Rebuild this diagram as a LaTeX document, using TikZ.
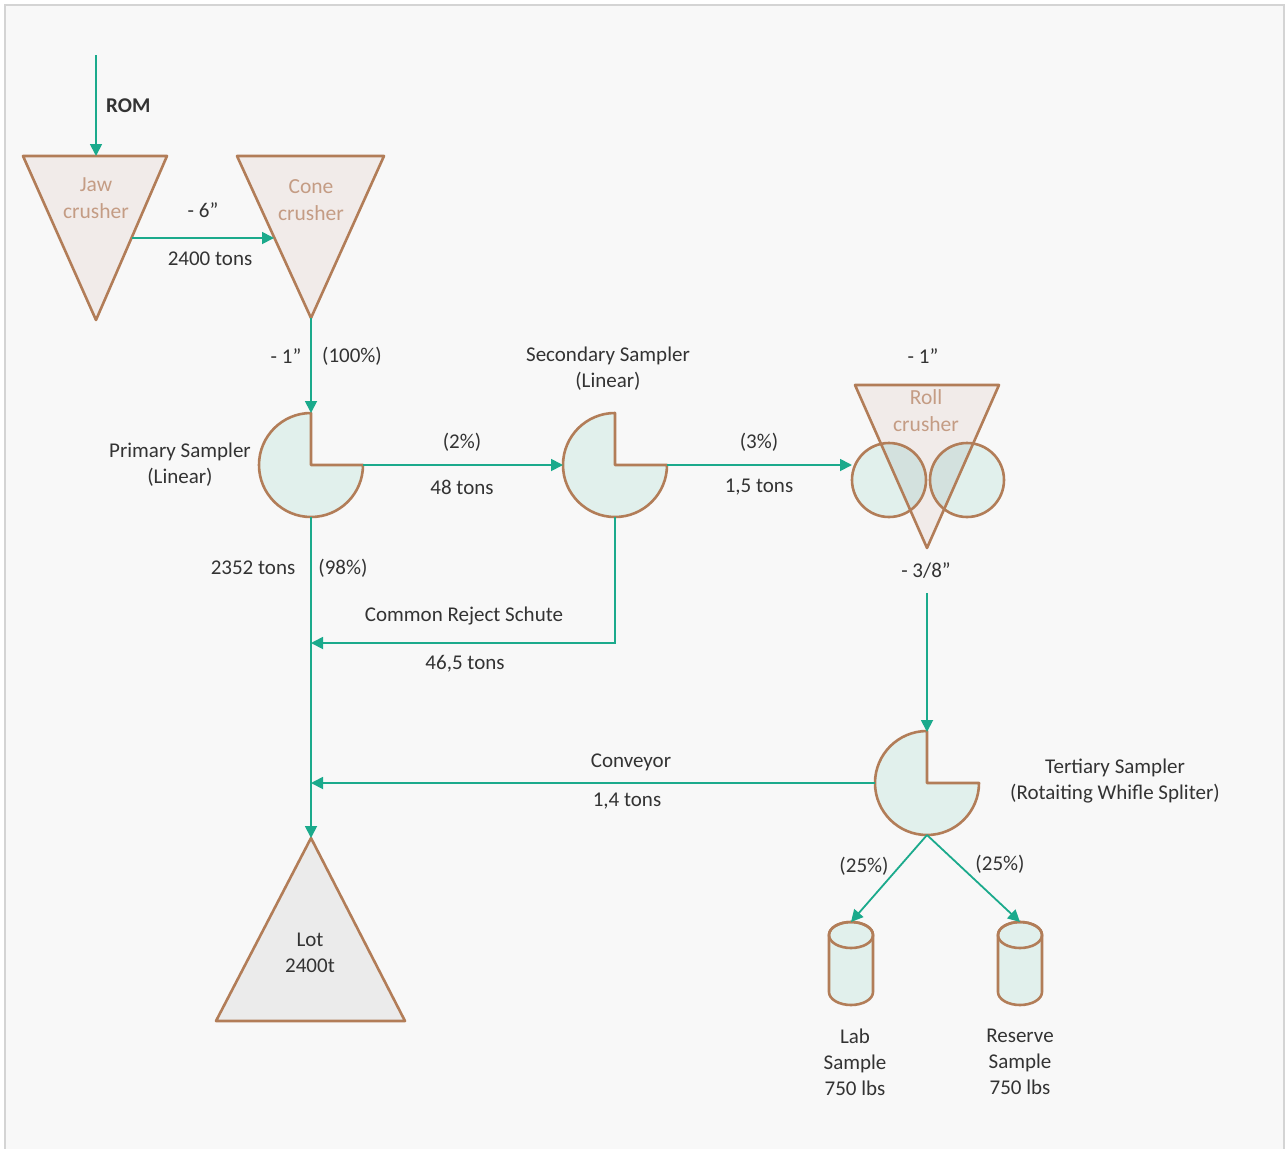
\documentclass[tikz,border=0pt]{standalone}
\usepackage{fontspec}
\setmainfont{Carlito}
\usetikzlibrary{arrows.meta,calc}
\definecolor{bgc}{HTML}{F8F8F8}
\definecolor{framec}{HTML}{D4D4D4}
\definecolor{flow}{HTML}{1BAA8C}
\definecolor{brn}{HTML}{B27D58}
\definecolor{crfill}{HTML}{F1EBE9}
\definecolor{smfill}{HTML}{E1F0EC}
\definecolor{lotfill}{HTML}{EBEBEB}
\definecolor{crtext}{HTML}{C49C84}
\definecolor{txt}{HTML}{333333}
\tikzset{
  flowline/.style={draw=flow, line width=1.8pt, -{Triangle[length=12pt,width=12pt]}},
  shapeline/.style={draw=brn, line width=2.6pt, line join=round},
  lbl/.style={text=txt, font=\fontsize{21}{26}\selectfont, align=center, inner sep=0pt},
  crlbl/.style={text=crtext, font=\fontsize{21.5}{27}\selectfont, align=center, inner sep=0pt},
}
\newcommand{\samplershape}[1]{%
  \path[shapeline, fill=smfill] (#1) -- ++(52,0) arc[start angle=0,end angle=-270,radius=52pt] -- cycle;}
\newcommand{\cylshape}[1]{%
  \path[shapeline, fill=smfill] ($(#1)+(-22,13)$) -- ++(0,57) arc[start angle=180,end angle=360,x radius=22pt,y radius=13pt] -- ++(0,-57) arc[start angle=0,end angle=180,x radius=22pt,y radius=13pt] -- cycle;
  \path[shapeline] ($(#1)+(0,13)$) ellipse[x radius=22pt,y radius=13pt];}
\begin{document}
\begin{tikzpicture}[x=1pt,y=-1pt]
\useasboundingbox (0,0) rectangle (1286,1149);
\fill[white] (0,0) rectangle (1286,1149);
\draw[framec, line width=1.5pt, fill=bgc] (5,5) rectangle (1284,1160);

% ---- coordinates
\coordinate (romstart) at (96,55);
\coordinate (jawtop) at (96,156);
\coordinate (jawR) at (132,238);
\coordinate (coneL) at (274,238);
\coordinate (conebot) at (311,318);
\coordinate (prim) at (311,465);
\coordinate (primtop) at (311,413);
\coordinate (primR) at (363,465);
\coordinate (primbot) at (311,517);
\coordinate (sec) at (615,465);
\coordinate (secL) at (563,465);
\coordinate (secR) at (667,465);
\coordinate (secbot) at (615,517);
\coordinate (secturn) at (615,643);
\coordinate (rejjoin) at (311,643);
\coordinate (rollL) at (852,465);
\coordinate (rollout) at (927,593);
\coordinate (ter) at (927,783);
\coordinate (tertop) at (927,732);
\coordinate (terL) at (875,783);
\coordinate (terbot) at (927,835);
\coordinate (convjoin) at (311,783);
\coordinate (lottop) at (311,838);
\coordinate (lab) at (851,922);
\coordinate (res) at (1020,922);

% ---- crushers
\path[shapeline, fill=crfill] (23,156) -- (167,156) -- (96,320) -- cycle;
\node[crlbl] (jawtxt) at (96,198) {Jaw\\crusher};
\path[shapeline, fill=crfill] (237,156) -- (384,156) -- (311,318) -- cycle;
\node[crlbl] (conetxt) at (311,200) {Cone\\crusher};

% roll crusher
\path[fill=crfill] (855,385) -- (999,385) -- (927,548) -- cycle;
\node[crlbl] (rolltxt) at (926,411) {Roll\\crusher};
\path[fill=smfill] (889,480) circle[radius=37pt];
\path[fill=smfill] (967,480) circle[radius=37pt];
\begin{scope}
  \clip (855,385) -- (999,385) -- (927,548) -- cycle;
  \path[fill=black, fill opacity=0.06] (889,480) circle[radius=37pt];
  \path[fill=black, fill opacity=0.06] (967,480) circle[radius=37pt];
\end{scope}
\path[shapeline] (889,480) circle[radius=37pt];
\path[shapeline] (967,480) circle[radius=37pt];
\path[shapeline] (855,385) -- (999,385) -- (927,548) -- cycle;

% samplers
\samplershape{prim}
\samplershape{sec}
\samplershape{ter}

% lot
\path[shapeline, fill=lotfill] (311,838) -- (405,1021) -- (216,1021) -- cycle;
\node[lbl] (lottxt) at (310,953) {Lot\\2400t};

% cylinders
\cylshape{lab}
\cylshape{res}

% ---- connectors
\draw[flowline] (romstart) -- (jawtop);
\draw[flowline] (jawR) -- (coneL);
\draw[flowline] (conebot) -- (primtop);
\draw[flowline] (primR) -- (secL);
\draw[flowline] (secR) -- (rollL);
\draw[flowline] (secbot) -- (secturn) -- (rejjoin);
\draw[flowline] (primbot) -- (lottop);
\draw[flowline] (rollout) -- (tertop);
\draw[flowline] (terL) -- (convjoin);
\draw[flowline] (terbot) -- (lab);
\draw[flowline] (terbot) -- (res);

% ---- labels
\node[lbl, font=\fontsize{21}{26}\selectfont\bfseries, anchor=west] (rom) at (106,106) {ROM};
\node[lbl] (l6) at (203,210) {- 6”};
\node[lbl] (l2400) at (210,259) {2400 tons};
\node[lbl] (l1a) at (286,356) {- 1”};
\node[lbl] (l100) at (352,356) {(100\%)};
\node[lbl] (primtxt) at (180,465) {Primary Sampler\\(Linear)};
\node[lbl] (sectxt) at (608,369) {Secondary Sampler\\(Linear)};
\node[lbl] (l2) at (462,442) {(2\%)};
\node[lbl] (l48) at (462,487) {48 tons};
\node[lbl] (l3) at (759,442) {(3\%)};
\node[lbl] (l15) at (759,487) {1,5 tons};
\node[lbl] (l1b) at (923,356) {- 1”};
\node[lbl] (l38) at (926,571) {- 3/8”};
\node[lbl] (l2352) at (253,568) {2352 tons};
\node[lbl] (l98) at (343,568) {(98\%)};
\node[lbl] (rej) at (464,616) {Common Reject Schute};
\node[lbl] (l465) at (465,664) {46,5 tons};
\node[lbl] (conv) at (631,762) {Conveyor};
\node[lbl] (l14) at (627,801) {1,4 tons};
\node[lbl] (tertxt) at (1115,781) {Tertiary Sampler\\(Rotaiting Whifle Spliter)};
\node[lbl] (l25a) at (864,866) {(25\%)};
\node[lbl] (l25b) at (1000,864) {(25\%)};
\node[lbl] (labtxt) at (855,1062) {Lab\\Sample\\750 lbs};
\node[lbl] (restxt) at (1020,1062) {Reserve\\Sample\\750 lbs};
\end{tikzpicture}
\end{document}
